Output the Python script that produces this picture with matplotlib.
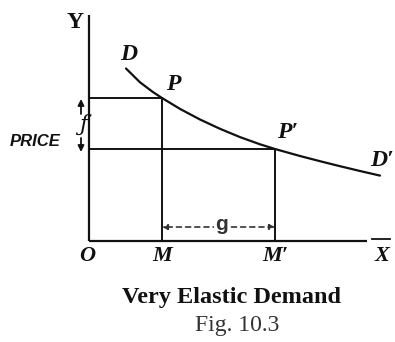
import matplotlib
matplotlib.use("Agg")
import matplotlib.pyplot as plt

# Demand curve (quantity, price)
curve_q = [37, 51, 64, 73, 91, 111, 131, 151, 171, 186, 211, 231, 251, 271, 291]
curve_p = [172.5, 158.7, 148.9, 143, 132.1, 121.5, 112.2, 103.9, 96.7, 92, 85, 79.8, 74.8, 70, 65.4]

# Points P and P'
point_q = [73, 186]
point_p = [143, 92]
point_labels = ["P", "P\u2032"]
foot_labels = ["M", "M\u2032"]

fig = plt.figure(figsize=(3.95, 3.42), dpi=100)
ax = fig.add_axes([0, 0, 1, 1])
ax.set_xlim(-89, 306)
ax.set_ylim(-101, 241)
ax.axis("off")

serif_bi = dict(family="Liberation Serif", weight="bold", style="italic")
k = "#111111"

# axes
ax.plot([0, 0], [0, 226], color=k, lw=1.6, solid_capstyle="butt")
ax.plot([0, 278], [0, 0], color=k, lw=1.6, solid_capstyle="butt")
ax.plot([283, 301], [2, 2], color=k, lw=1.3)

# demand curve
ax.plot(curve_q, curve_p, color=k, lw=1.6, solid_capstyle="round", solid_joinstyle="round")

# guide lines
for q, p in zip(point_q, point_p):
    ax.plot([0, q], [p, p], color=k, lw=1.4)
    ax.plot([q, q], [0, p], color=k, lw=1.4)

# labels
ax.text(-14, 218, "Y", fontsize=17, family="Liberation Serif", weight="bold",
        ha="center", va="center", color=k)
ax.text(40, 187, "D", fontsize=17, ha="center", va="center", color=k, **serif_bi)
ax.text(point_q[0] + 11, point_p[0] + 13, point_labels[0], fontsize=17,
        ha="center", va="center", color=k, **serif_bi)
ax.text(point_q[1] + 13, point_p[1] + 17, point_labels[1], fontsize=17,
        ha="center", va="center", color=k, **serif_bi)
ax.text(293, 81, "D\u2032", fontsize=17, ha="center", va="center", color=k, **serif_bi)
ax.text(-2, -15, "O", fontsize=16, ha="center", va="center", color=k, **serif_bi)
for q, lab in zip(point_q, foot_labels):
    ax.text(q, -15, lab, fontsize=16, ha="center", va="center", color=k, **serif_bi)
ax.text(293, -15, "X", fontsize=16, ha="center", va="center", color=k, **serif_bi)

ax.text(-54, 99, "PRICE", fontsize=12, family="Liberation Sans", weight="bold",
        style="italic", ha="center", va="center", color=k)
# f arrows
ax.annotate("", xy=(-8, 142), xytext=(-8, 127),
            arrowprops=dict(arrowstyle="-|>", color=k, lw=1.3, mutation_scale=9,
                            shrinkA=0, shrinkB=0))
ax.annotate("", xy=(-8, 89), xytext=(-8, 103),
            arrowprops=dict(arrowstyle="-|>", color=k, lw=1.3, mutation_scale=9,
                            shrinkA=0, shrinkB=0))
ax.text(-6, 116, "\u0192", fontsize=16, family="DejaVu Serif", style="italic",
        ha="center", va="center", color=k)

# g dashed arrow
ax.annotate("", xy=(point_q[0], 14), xytext=(point_q[1], 14),
            arrowprops=dict(arrowstyle="<|-|>", color="#333333", lw=1.2, ls=(0, (3, 2.5)),
                            mutation_scale=8, shrinkA=0, shrinkB=0))
ax.text((point_q[0] + point_q[1]) / 2 + 3, 16, "g", fontsize=15, family="Liberation Sans",
        weight="bold", ha="center", va="center", color="#333333",
        bbox=dict(facecolor="white", edgecolor="none", pad=1))

# caption
fig.text(231 / 395, 1 - 298 / 342, "Very Elastic Demand", fontsize=17.5,
         family="Liberation Serif", weight="bold", ha="center", va="center", color=k)
fig.text(237 / 395, 1 - 326 / 342, "Fig. 10.3", fontsize=17,
         family="Liberation Serif", ha="center", va="center", color="#333333")

fig.savefig("out.png", dpi=100)
